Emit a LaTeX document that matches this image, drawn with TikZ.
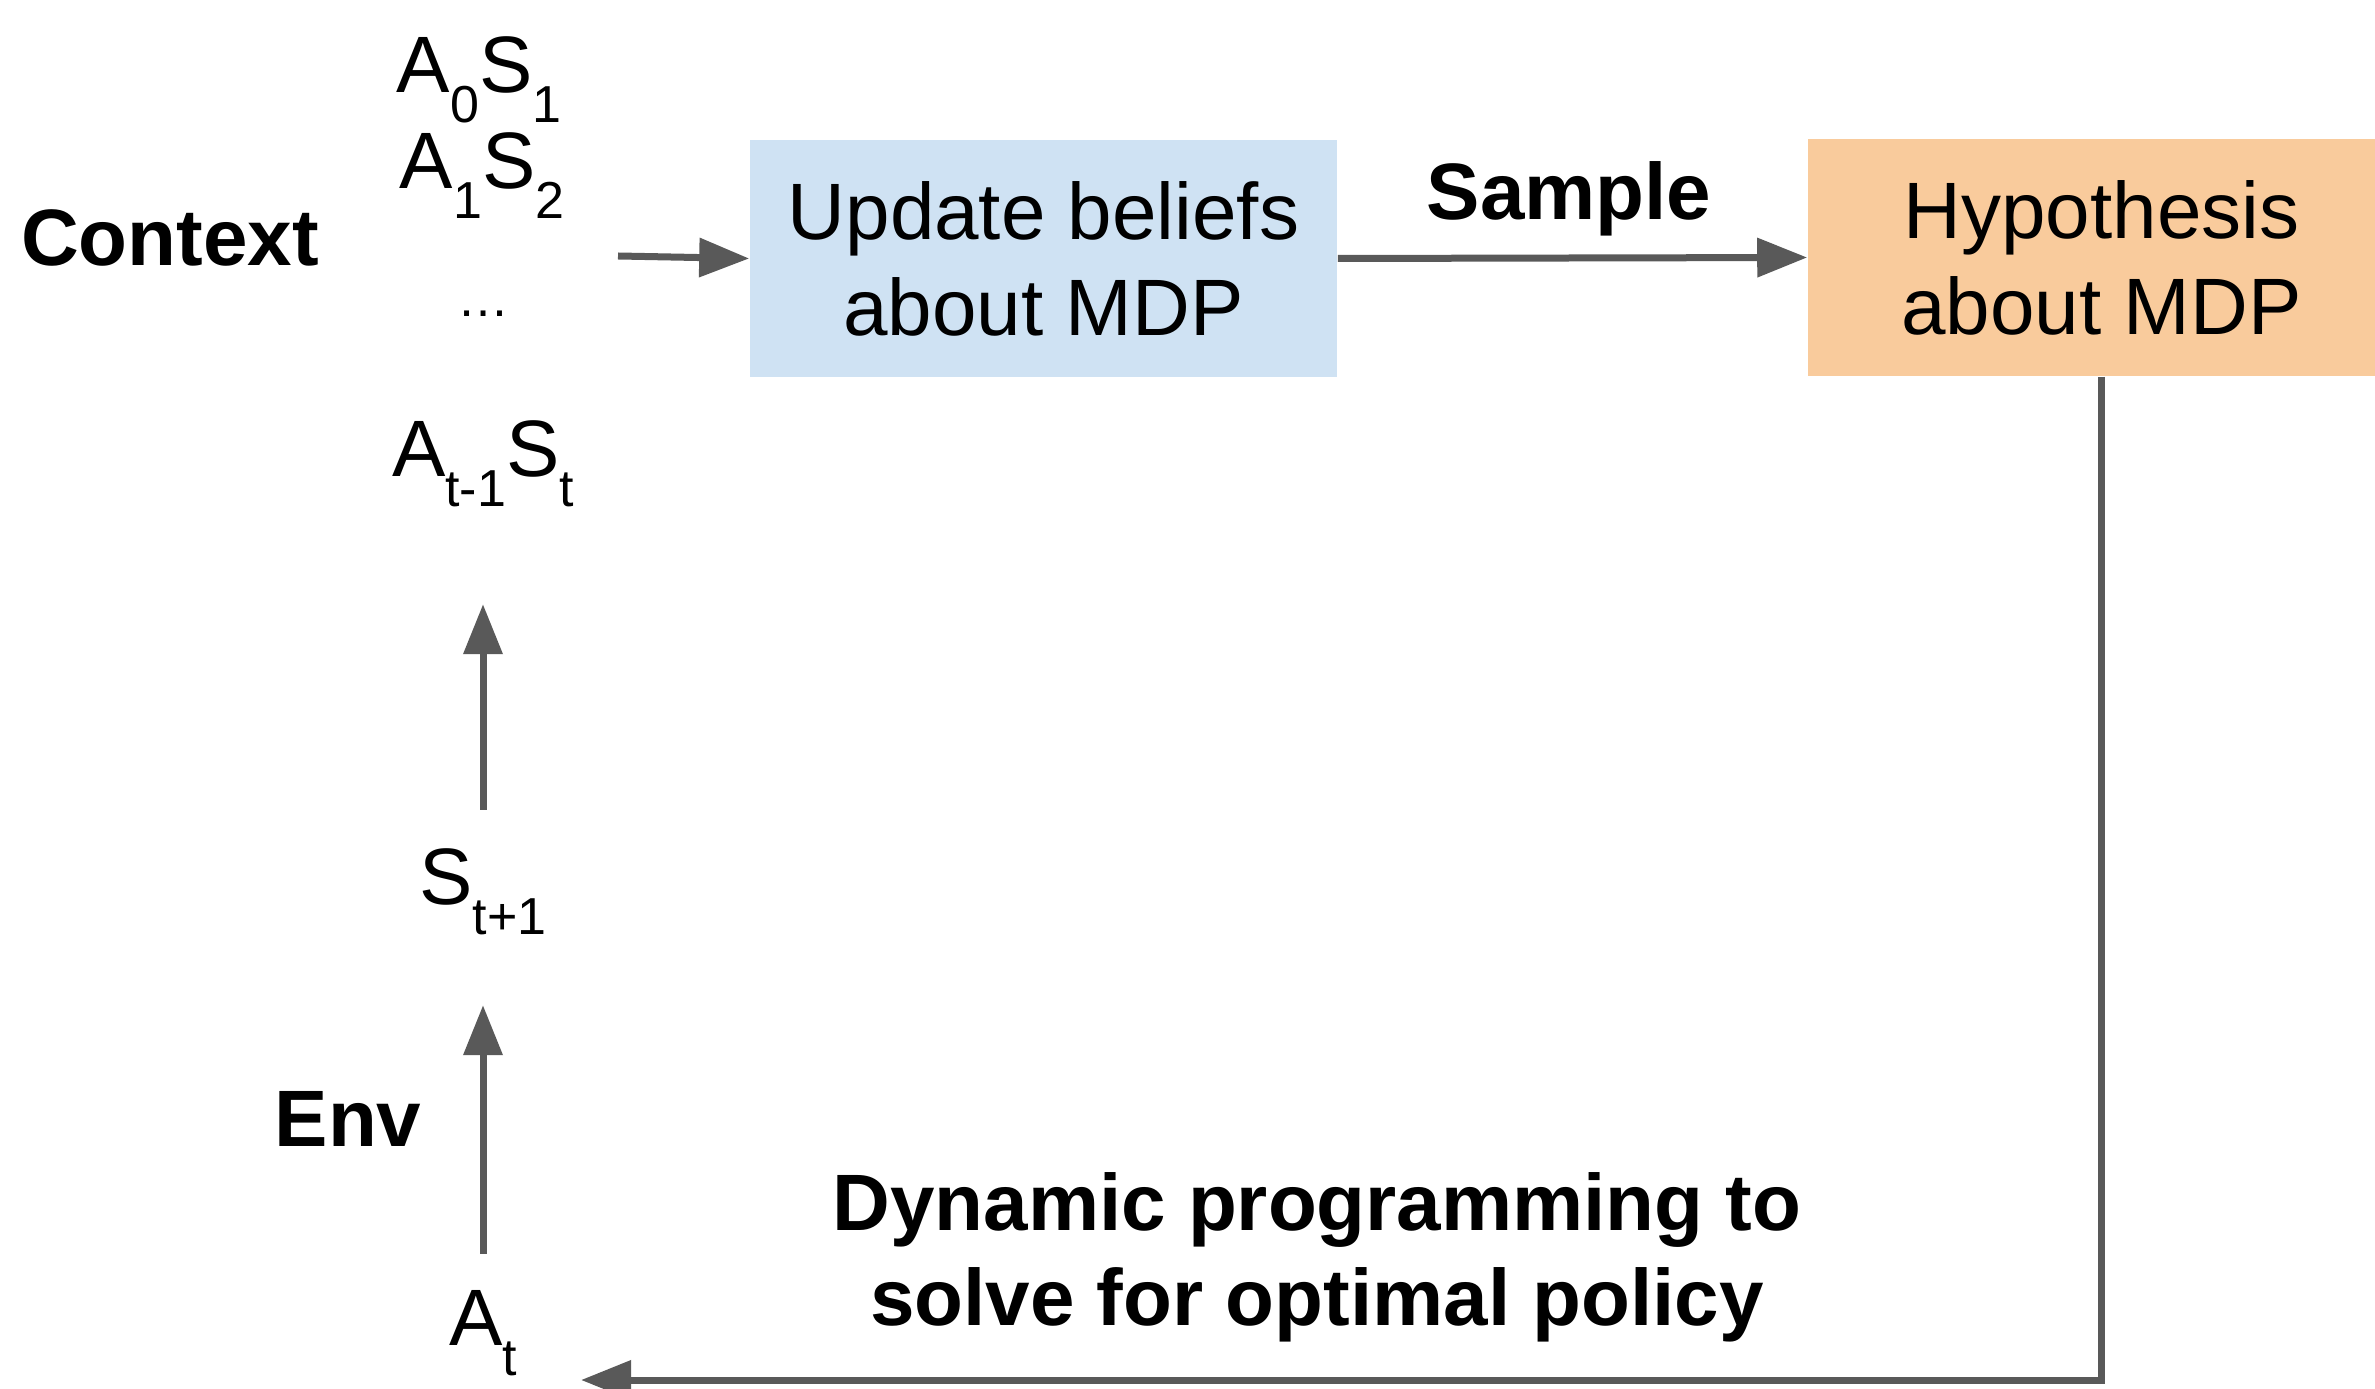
\documentclass[tikz,border=0pt]{standalone}
\usepackage{fontspec}
\setmainfont{Liberation Sans}
\usepackage{tikz}
\usetikzlibrary{arrows.meta}
\definecolor{flowgray}{HTML}{595959}
\definecolor{beliefblue}{HTML}{CFE2F3}
\definecolor{hypoorange}{HTML}{F9CB9C}
% lowered index, as in the slides
\newcommand{\lowsub}[1]{\raisebox{-7.5pt}{\fontsize{13pt}{13pt}\selectfont #1}}
\tikzset{
    flow/.style={draw=flowgray, line width=1.75pt, -{Triangle[length=12.5pt, width=9.5pt]}},
    stage/.style={rectangle, minimum width=146.75pt, minimum height=59.25pt, inner sep=0pt,
                  align=center, font=\fontsize{20pt}{24pt}\selectfont},
    tag/.style={font=\fontsize{20pt}{23.75pt}\selectfont\bfseries, inner sep=0pt, align=center},
    seq/.style={font=\fontsize{20pt}{24pt}\selectfont, inner sep=0pt, anchor=base}
}

\begin{document}
\begin{tikzpicture}[x=0.25pt, y=-0.25pt]
    \useasboundingbox (0,0) rectangle (2375,1389);
    % boxes
    \node[stage, fill=beliefblue] (update) at (1043.5,258.5) {Update beliefs\\about MDP};
    \node[stage, fill=hypoorange] (hypo) at (2101.5,257.5) {Hypothesis\\about MDP};
    % history column
    \node[seq] (a0s1) at (479,93) {A\lowsub{0}S\lowsub{1}};
    \node[seq] (a1s2) at (482,189) {A\lowsub{1}S\lowsub{2}};
    \node[seq, font=\fontsize{13pt}{13pt}\selectfont] (dots) at (483,317) {…};
    \node[seq] (atst) at (483,477) {A\lowsub{t-1}S\lowsub{t}};
    \node[seq] (st1) at (483,904) {S\lowsub{t+1}};
    \node[seq] (at) at (483,1345) {A\lowsub{t}};
    % labels
    \node[tag, anchor=base] (ctxlbl) at (170,266) {Context};
    \node[tag, anchor=base] (smplbl) at (1569,220) {Sample};
    \node[tag, anchor=base] (envlbl) at (348,1146) {Env};
    \node[tag] (dplbl) at (1317,1257) {Dynamic programming to\\solve for optimal policy};
    \coordinate (ctx) at (618,256);
    \coordinate (dpin) at (581,1380);
    % arrows
    \draw[flow] (ctx) -- (update.west);
    \draw[flow] (update.east) -- (hypo.west);
    \draw[flow] (hypo.south) |- (dpin);
    \draw[flow, shorten <=8.9pt, shorten >=17.5pt] (at.north) -- (st1.south);
    \draw[flow, shorten <=9.4pt, shorten >=24pt] (st1.north) -- (atst.south);
\end{tikzpicture}
\end{document}
